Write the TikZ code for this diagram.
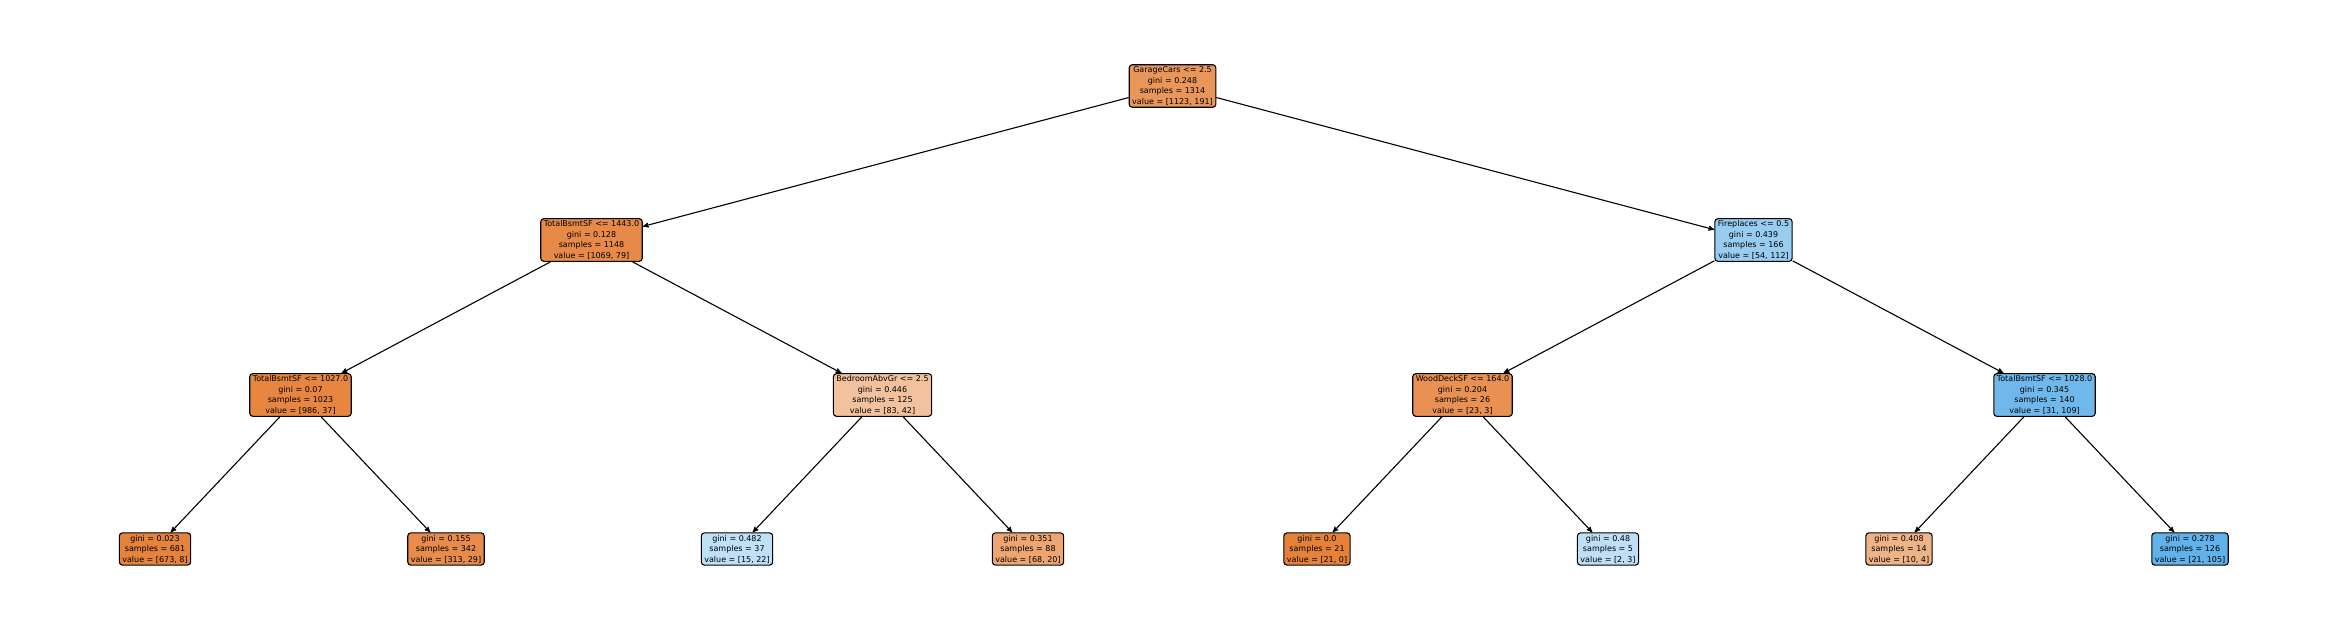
\documentclass[tikz,border=0pt]{standalone}
\usepackage{fontspec}
\setmainfont{DejaVu Sans}
\usepackage{xcolor}
\definecolor{clsorange}{RGB}{229,129,57}
\definecolor{clsblue}{RGB}{57,157,229}
\usepackage{tikz}
\usetikzlibrary{positioning}
\usetikzlibrary{arrows}
\tikzset{tree node/.style={rectangle,rounded corners=3pt,draw,line width=1.1pt,align=center,inner xsep=3pt,inner ysep=2pt,font=\fontsize{8}{10.5}\selectfont},}

\begin{document}
\begin{tikzpicture}[->, >=stealth', node distance=154pt and 581pt, on grid, line width=1.1pt]
	\useasboundingbox (0,0) rectangle (2345pt,636pt);
	\node[tree node, fill=clsorange!83] (root) at (1172.5pt,550pt) {GarageCars <= 2.5\\gini = 0.248\\samples = 1314\\value = [1123, 191]};
	\node[tree node, fill=clsorange!93] (l) [below left = of root] {TotalBsmtSF <= 1443.0\\gini = 0.128\\samples = 1148\\value = [1069, 79]};
	\node[tree node, fill=clsblue!52] (r) [below right = of root] {Fireplaces <= 0.5\\gini = 0.439\\samples = 166\\value = [54, 112]};
	\node[tree node, fill=clsorange!96] (ll) [below left = 155pt and 291pt of l] {TotalBsmtSF <= 1027.0\\gini = 0.07\\samples = 1023\\value = [986, 37]};
	\node[tree node, fill=clsorange!49] (lr) [below right = 155pt and 291pt of l] {BedroomAbvGr <= 2.5\\gini = 0.446\\samples = 125\\value = [83, 42]};
	\node[tree node, fill=clsorange!87] (rl) [below left = 155pt and 291pt of r] {WoodDeckSF <= 164.0\\gini = 0.204\\samples = 26\\value = [23, 3]};
	\node[tree node, fill=clsblue!72] (rr) [below right = 155pt and 291pt of r] {TotalBsmtSF <= 1028.0\\gini = 0.345\\samples = 140\\value = [31, 109]};
	\node[tree node, fill=clsorange!99] (lll) [below left = 154pt and 145.5pt of ll] {gini = 0.023\\samples = 681\\value = [673, 8]};
	\node[tree node, fill=clsorange!91] (llr) [below right = 154pt and 145.5pt of ll] {gini = 0.155\\samples = 342\\value = [313, 29]};
	\node[tree node, fill=clsblue!32] (lrl) [below left = 154pt and 145.5pt of lr] {gini = 0.482\\samples = 37\\value = [15, 22]};
	\node[tree node, fill=clsorange!71] (lrr) [below right = 154pt and 145.5pt of lr] {gini = 0.351\\samples = 88\\value = [68, 20]};
	\node[tree node, fill=clsorange] (rll) [below left = 154pt and 145.5pt of rl] {gini = 0.0\\samples = 21\\value = [21, 0]};
	\node[tree node, fill=clsblue!33] (rlr) [below right = 154pt and 145.5pt of rl] {gini = 0.48\\samples = 5\\value = [2, 3]};
	\node[tree node, fill=clsorange!60] (rrl) [below left = 154pt and 145.5pt of rr] {gini = 0.408\\samples = 14\\value = [10, 4]};
	\node[tree node, fill=clsblue!80] (rrr) [below right = 154pt and 145.5pt of rr] {gini = 0.278\\samples = 126\\value = [21, 105]};

	\path[draw]
	(root) edge (l)
	(root) edge (r)
	(l) edge (ll)
	(l) edge (lr)
	(r) edge (rl)
	(r) edge (rr)
	(ll) edge (lll)
	(ll) edge (llr)
	(lr) edge (lrl)
	(lr) edge (lrr)
	(rl) edge (rll)
	(rl) edge (rlr)
	(rr) edge (rrl)
	(rr) edge (rrr);
\end{tikzpicture}
\end{document}
